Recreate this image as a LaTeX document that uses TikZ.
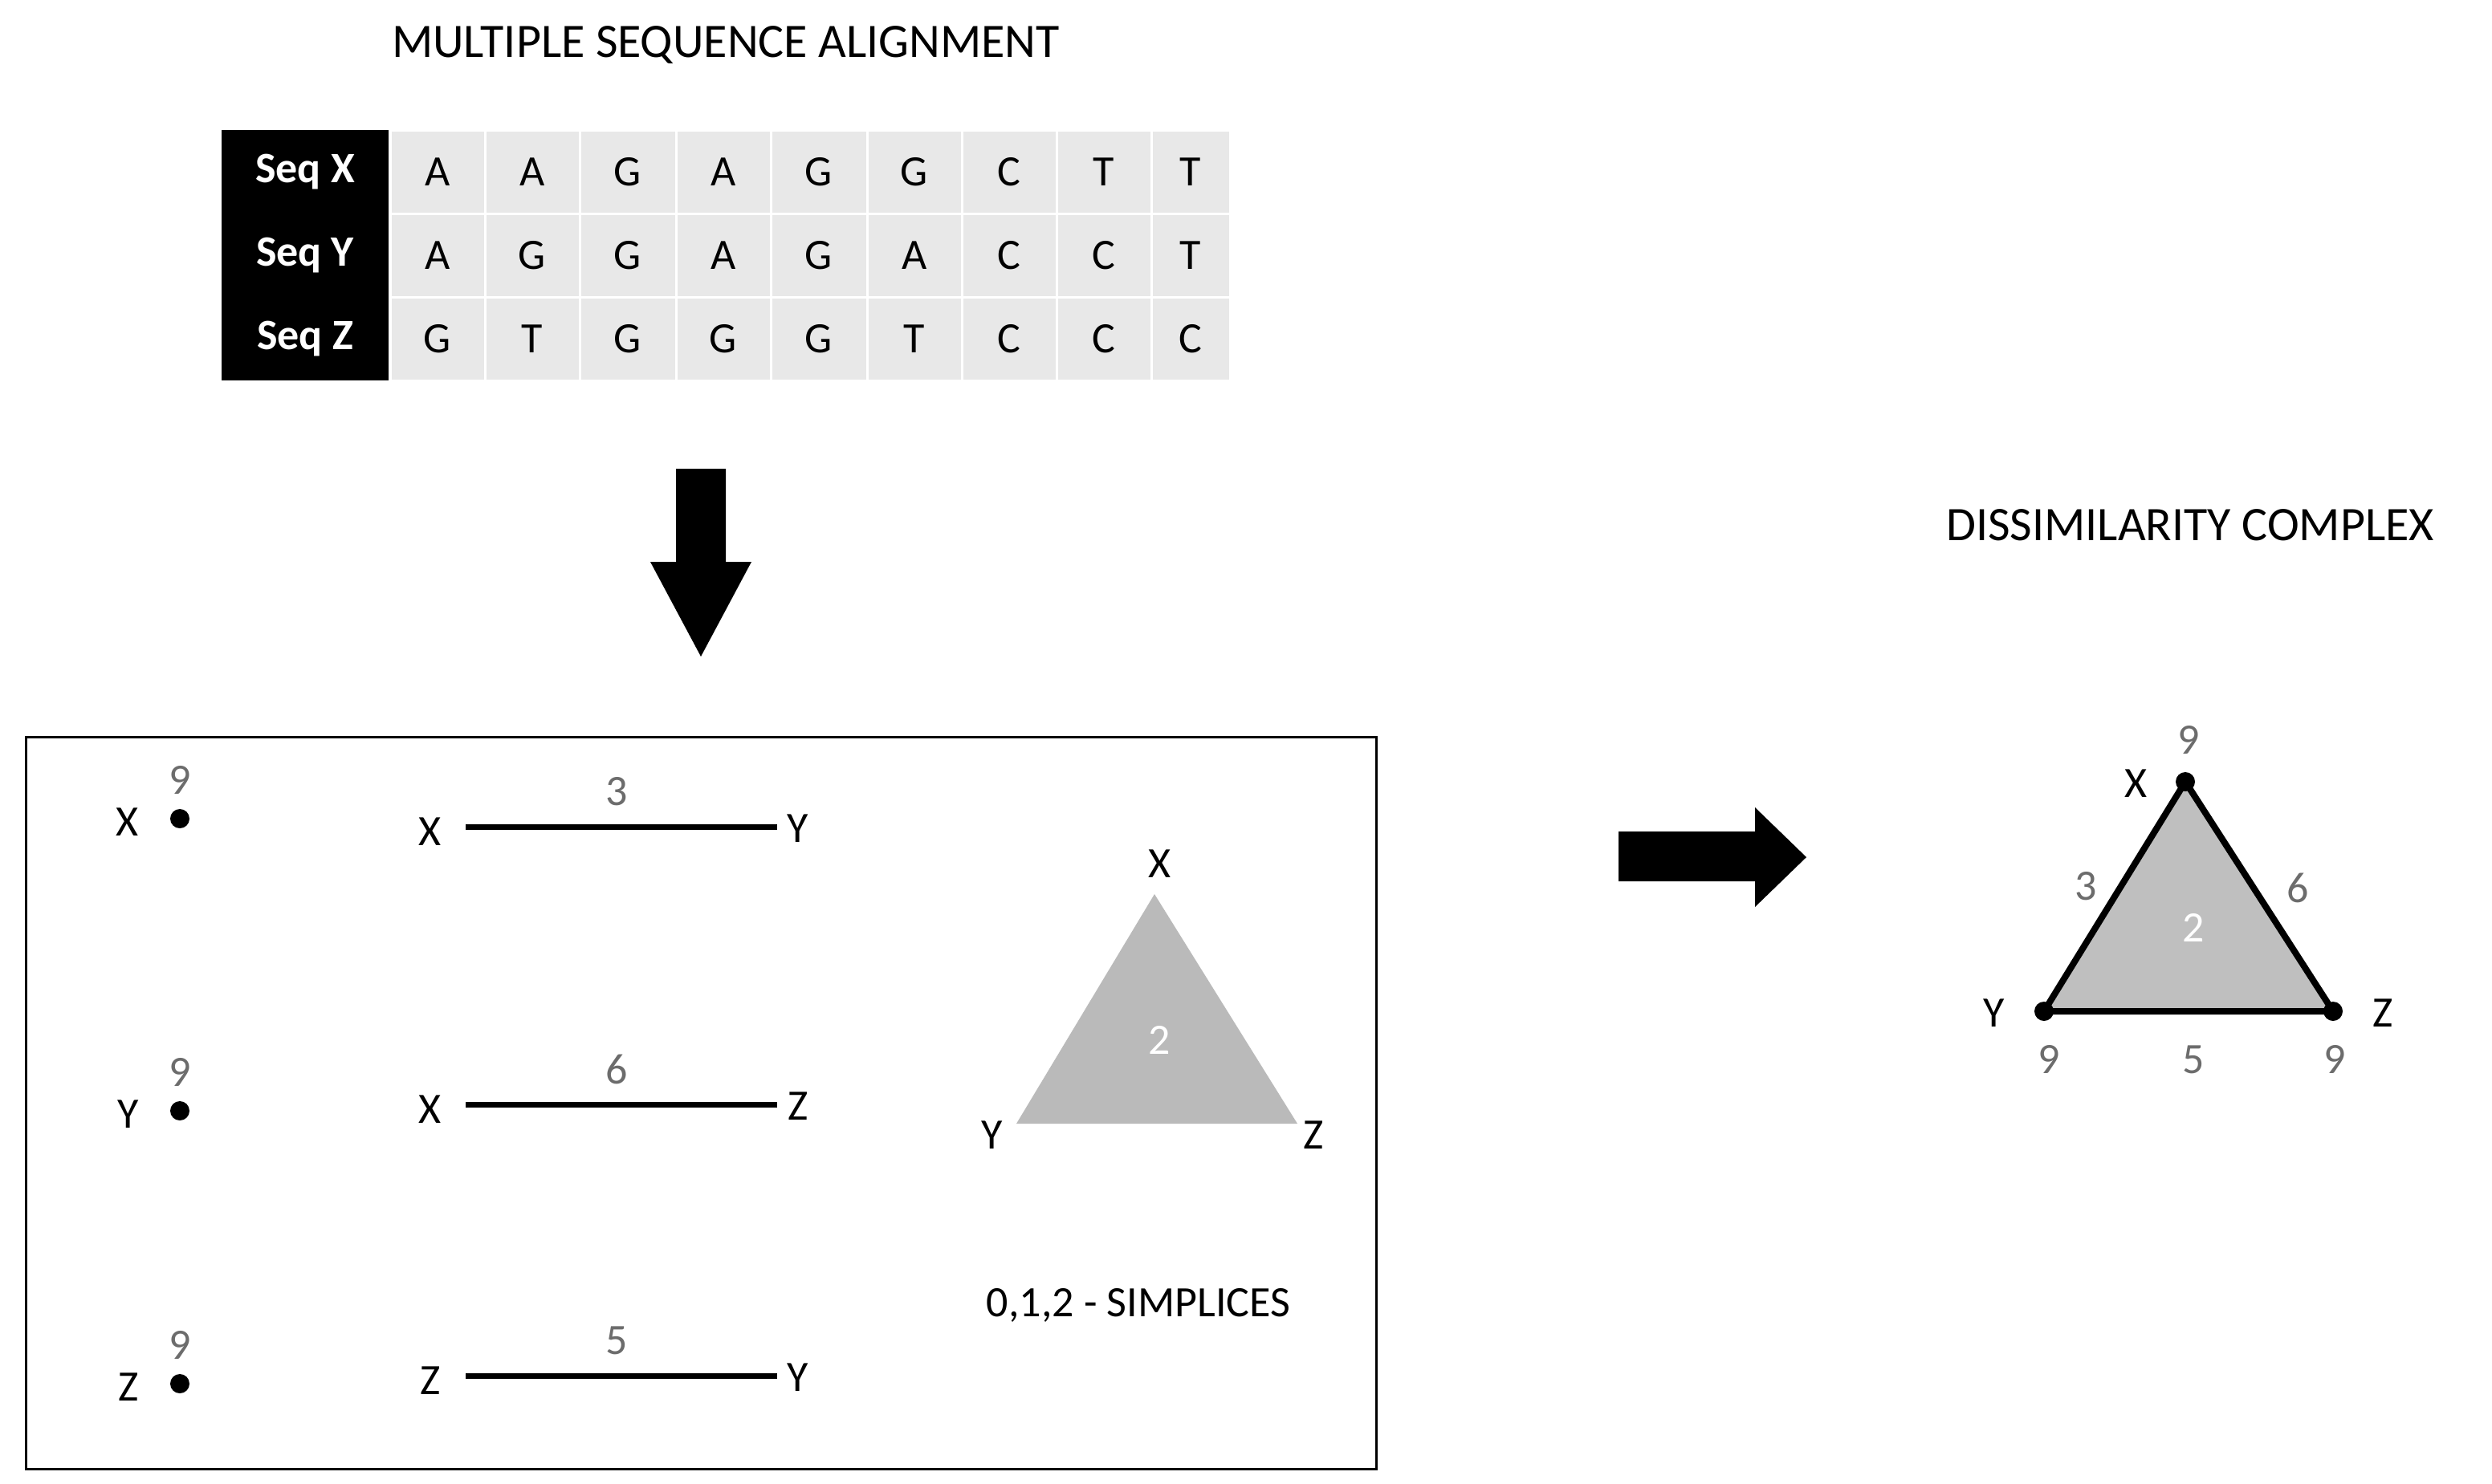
\documentclass[tikz,border=0pt]{standalone}
\usepackage{fontspec}
\setmainfont{Carlito}
\begin{document}
\begin{tikzpicture}[x=1pt,y=-1pt,
  tt/.style={font=\fontsize{30}{32}\selectfont},
  lab/.style={font=\fontsize{27}{29}\selectfont},
  num/.style={font=\fontsize{27}{29}\selectfont,text=gray!85!black},
  cell/.style={draw=white,line width=1.5pt,fill=black!9,minimum height=52pt,inner sep=0pt,font=\fontsize{27}{29}\selectfont},
  head/.style={fill=black,text=white,minimum width=104pt,minimum height=52pt,inner sep=0pt,font=\bfseries\fontsize{27}{29}\selectfont},
  dot/.style={circle,fill=black,inner sep=0pt,minimum size=12pt},
  seg/.style={line width=3.5pt}]
\useasboundingbox (0,0) rectangle (1552,924);
\node[tt] (t1) at (452,28) {MULTIPLE SEQUENCE ALIGNMENT};
% table
\foreach \y/\l/\a/\b/\c/\d/\e/\f/\g/\h/\k [count=\i] in {107/X/A/A/G/A/G/G/C/T/T,159/Y/A/G/G/A/G/A/C/C/T,211/Z/G/T/G/G/G/T/C/C/C}{
  \node[head] (h\i) at (190,\y) {Seq \l};
  \node[cell,minimum width=59pt] (c\i a) at (272.5,\y) {\a};
  \node[cell,minimum width=59pt] (c\i b) at (331.5,\y) {\b};
  \node[cell,minimum width=60pt] (c\i c) at (391,\y) {\c};
  \node[cell,minimum width=59pt] (c\i d) at (450.5,\y) {\d};
  \node[cell,minimum width=60pt] (c\i e) at (510,\y) {\e};
  \node[cell,minimum width=59pt] (c\i f) at (569.5,\y) {\f};
  \node[cell,minimum width=59pt] (c\i g) at (628.5,\y) {\g};
  \node[cell,minimum width=59pt] (c\i h) at (687.5,\y) {\h};
  \node[cell,minimum width=49pt] (c\i k) at (741.5,\y) {\k};
}
% down arrow
\fill (421,292) -- (452,292) -- (452,350) -- (468,350) -- (436.5,409) -- (405,350) -- (421,350) -- cycle;
% box
\draw[line width=1.5pt] (16,459) rectangle (857,915);
% points
\foreach \n/\y in {X/510,Y/692,Z/862}{
  \node[dot] (p\n) at (112,\y) {};
  \node[lab,anchor=east] at (90,\y+2) {\n};
  \node[num] at (112,\y-24) {9};
}
% edges
\foreach \a/\b/\y/\w [count=\i] in {X/Y/515/3,X/Z/688/6,Z/Y/857/5}{
  \coordinate (e\i a) at (290,\y); \coordinate (e\i b) at (484,\y);
  \draw[seg] (e\i a) -- (e\i b);
  \node[lab] at (268,\y+3) {\a};
  \node[lab] at (497,\y+1) {\b};
  \node[num] at (384,\y-22) {\w};
}
% gray triangle
\coordinate (tX) at (719,557); \coordinate (tY) at (633,700); \coordinate (tZ) at (808,700);
\fill[black!27] (tX) -- (tY) -- (tZ) -- cycle;
\node[lab] at (722,538) {X};
\node[lab] at (618,707) {Y};
\node[lab] at (818,707) {Z};
\node[lab,text=white] at (722,648) {2};
\node[lab] at (709,813) {0,1,2 - SIMPLICES};
% right arrow
\fill (1008,518) -- (1093,518) -- (1093,503) -- (1125,534) -- (1093,565) -- (1093,549) -- (1008,549) -- cycle;
\node[tt] at (1364,327) {DISSIMILARITY COMPLEX};
% complex
\coordinate (cX) at (1361,487); \coordinate (cY) at (1273,630); \coordinate (cZ) at (1453,630);
\filldraw[fill=black!25,line width=4pt,line join=round] (cX) -- (cY) -- (cZ) -- cycle;
\node[dot] at (cX) {}; \node[dot] at (cY) {}; \node[dot] at (cZ) {};
\node[num] at (1363,461) {9};
\node[lab] at (1330,488) {X};
\node[num] at (1299,552) {3};
\node[num] at (1431,553) {6};
\node[lab,text=white] at (1366,578) {2};
\node[lab] at (1242,631) {Y};
\node[lab] at (1484,631) {Z};
\node[num] at (1276,660) {9};
\node[num] at (1366,660) {5};
\node[num] at (1454,660) {9};
\end{tikzpicture}
\end{document}
